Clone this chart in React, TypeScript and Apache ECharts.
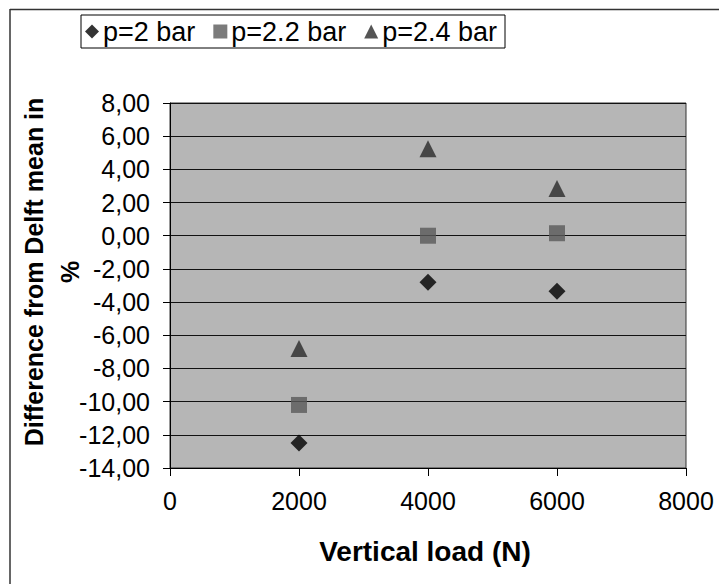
import React, { useEffect, useRef } from "react";
import * as echarts from "echarts";

const loads = [2000, 4000, 6000];
const p2 = [-12.5, -2.8, -3.35];
const p22 = [-10.2, 0.0, 0.15];
const p24 = [-6.8, 5.25, 2.85];
const seriesNames = ["p=2 bar", "p=2.2 bar", "p=2.4 bar"];
const xTitle = "Vertical load (N)";
const yTitle = "Difference from Delft mean in\n%";

export default function App() {
  const ref = useRef<HTMLDivElement>(null);
  useEffect(() => {
    const chart = echarts.init(ref.current!, null, { renderer: "svg" });
    const font = "Arial, 'Liberation Sans', sans-serif";
    const mk = (d: number[]) => loads.map((x, i) => [x, d[i]]);
    chart.setOption({
      animation: false,
      backgroundColor: "#ffffff",
      grid: {
        left: 170,
        top: 103,
        right: 33,
        bottom: 116,
        show: true,
        backgroundColor: "#b6b6b6",
        borderColor: "#333",
        borderWidth: 1,
      },
      legend: {
        left: 81,
        top: 15,
        padding: [3, 8, 3, 4],
        itemGap: 18,
        itemWidth: 14,
        itemHeight: 14,
        borderColor: "#000",
        borderWidth: 1,
        borderRadius: 0,
        textStyle: { fontSize: 27, fontFamily: font, color: "#000", padding: [0, 0, 0, -1] },
        data: seriesNames,
      },
      xAxis: {
        type: "value",
        min: 0,
        max: 8000,
        interval: 2000,
        splitLine: { show: false },
        axisLine: { show: true, onZero: false, lineStyle: { color: "#000", width: 1 } },
        axisTick: { show: true, length: 8, lineStyle: { color: "#000" } },
        axisLabel: {
          fontSize: 25,
          fontFamily: font,
          color: "#000",
          margin: 20,
          formatter: (v: number) => String(v),
        },
      },
      yAxis: {
        type: "value",
        min: -14,
        max: 8,
        interval: 2,
        splitLine: { show: true, lineStyle: { color: "#111", width: 1 } },
        axisLine: { show: true, onZero: false, lineStyle: { color: "#000", width: 1 } },
        axisTick: { show: true, length: 7, lineStyle: { color: "#000" } },
        axisLabel: {
          fontSize: 25,
          fontFamily: font,
          color: "#000",
          margin: 20,
          formatter: (v: number) => v.toFixed(2).replace(".", ","),
        },
      },
      graphic: [
        { type: "line", shape: { x1: 10, y1: 9.5, x2: 719, y2: 9.5 }, style: { stroke: "#333", lineWidth: 1.5 } },
        { type: "line", shape: { x1: 10, y1: 9, x2: 10, y2: 584 }, style: { stroke: "#333", lineWidth: 1.5 } },
        {
          type: "text",
          x: 52,
          y: 272,
          rotation: Math.PI / 2,
          style: {
            text: yTitle,
            font: `bold 25px ${font}`,
            fill: "#000",
            align: "center",
            verticalAlign: "middle",
            lineHeight: 36,
          },
        },
        {
          type: "text",
          x: 425,
          y: 551,
          style: {
            text: xTitle,
            font: `bold 28px ${font}`,
            fill: "#000",
            align: "center",
            verticalAlign: "middle",
          },
        },
      ],
      series: [
        {
          name: seriesNames[0],
          type: "scatter",
          symbol: "diamond",
          symbolSize: 17,
          itemStyle: { color: "#000" },
          data: mk(p2),
        },
        {
          name: seriesNames[1],
          type: "scatter",
          symbol: "rect",
          symbolSize: 16,
          itemStyle: { color: "#5a5a5a" },
          data: mk(p22),
        },
        {
          name: seriesNames[2],
          type: "scatter",
          symbol: "triangle",
          symbolSize: 17,
          itemStyle: { color: "#2a2a2a" },
          data: mk(p24),
        },
      ],
    });
    return () => chart.dispose();
  }, []);
  return (
    <div
      ref={ref}
      style={{ position: "absolute", left: 0, top: 0, width: 719, height: 584 }}
    />
  );
}
